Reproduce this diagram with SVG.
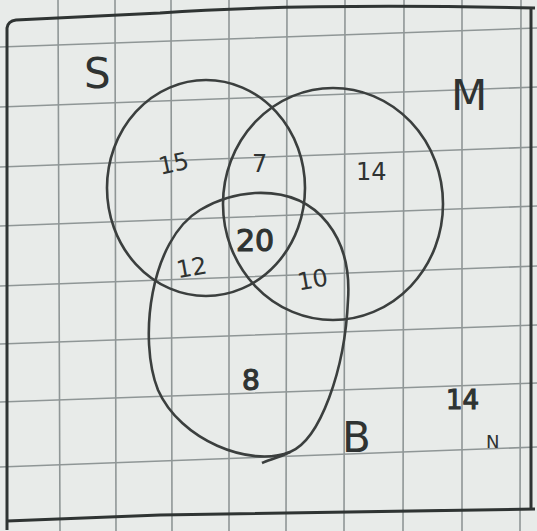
<svg xmlns="http://www.w3.org/2000/svg" width="537" height="531" viewBox="0 0 537 531">
<style>
.grid{stroke:#8f9696;stroke-width:1.6;fill:none}
.ink{stroke:#3b3f3e;stroke-width:2.6;fill:none}
.frame{stroke:#2f3433;stroke-width:3;fill:none}
text{font-family:"DejaVu Sans","Liberation Sans",sans-serif;fill:#2f3332;}
.num{font-size:24px}
.big{font-size:42px}
.heavy{stroke:#2f3332;stroke-width:1.2}
</style>
<rect width="537" height="531" fill="#e8ebe9"/>
<g id="grid">
<path class="grid" d="M0,47 L537,28 M0,107 L537,87 M0,167 L537,147 M0,226 L537,206 M0,286 L537,266 M0,344 L537,325 M0,402 L537,383 M0,467 L537,447"/>
<path class="grid" d="M58,0 L60,531 M115,0 L116,531 M171,0 L172,531 M229,0 L229,531 M287,0 L286,531 M345,0 L344,531 M404,0 L403,531 M462,0 L462,531 M521,0 L520,531"/>
</g>
<g id="frame">
<path class="frame" d="M7,530 L7,28 Q8,21 16,20 L160,13 Q300,3 535,8"/>
<path class="frame" d="M7,521 L160,515 L535,509"/>
<path class="frame" d="M531,8 L531,509"/>
</g>
<g id="S">
<ellipse class="ink" cx="206" cy="188" rx="99" ry="108"/>
<text class="big" x="84" y="88">S</text>
</g>
<g id="M">
<ellipse class="ink" cx="333" cy="204" rx="110" ry="116"/>
<text class="big" x="451" y="110">M</text>
</g>
<g id="B">
<path class="ink" d="M255,193 C320,190 352,240 348,300 C345,370 320,440 290,452 C250,468 180,440 158,390 C138,340 150,240 200,210 C220,198 238,194 255,193 Z"/>
<path class="ink" d="M290,452 C278,458 268,460 262,463"/>
<text class="big" x="342" y="452">B</text>
</g>
<g id="labels">
<text class="num" x="158" y="172" transform="rotate(-12 172 162)">15</text>
<text class="num" x="252" y="172">7</text>
<text class="num" x="356" y="180">14</text>
<text class="num heavy" x="236" y="251" style="font-size:30px">20</text>
<text class="num" x="176" y="276" transform="rotate(-10 190 266)">12</text>
<text class="num" x="297" y="288" transform="rotate(-10 312 278)">10</text>
<text class="num heavy" x="242" y="390" style="font-size:28px">8</text>
<text class="num heavy" x="446" y="409" style="font-size:26px">14</text>
<text x="486" y="448" style="font-size:18px">N</text>
</g>
</svg>
